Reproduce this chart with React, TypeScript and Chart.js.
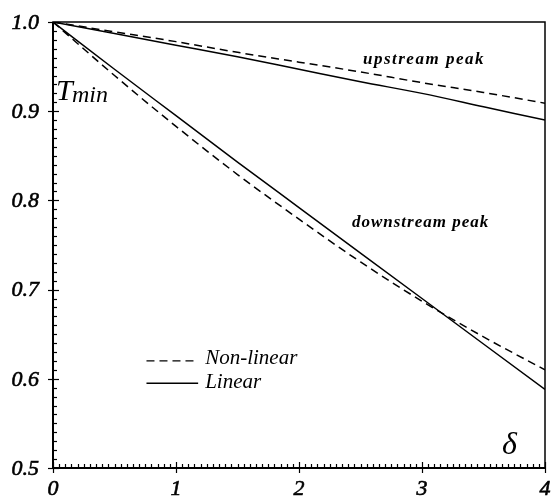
import React, { useEffect, useRef } from "react";
import { Chart, registerables } from "chart.js";

Chart.register(...registerables);

const xValues = [0, 0.5, 1, 1.5, 2, 2.5, 3, 3.5, 4];
const upstreamLinear = [1.0, 0.987, 0.974, 0.961, 0.947, 0.933, 0.92, 0.905, 0.89];
const upstreamNonLinear = [1.0, 0.989, 0.978, 0.966, 0.955, 0.944, 0.932, 0.921, 0.909];
const downstreamLinear = [1.0, 0.947, 0.895, 0.843, 0.792, 0.741, 0.69, 0.639, 0.588];
const downstreamNonLinear = [1.0, 0.94, 0.883, 0.829, 0.779, 0.731, 0.687, 0.647, 0.61];
const xTicks = [0, 1, 2, 3, 4];
const yTicks = [0.5, 0.6, 0.7, 0.8, 0.9, 1.0];

const pts = (ys: number[]) => xValues.map((x, i) => ({ x, y: ys[i] }));

const SERIF = '"Liberation Serif", "DejaVu Serif", serif';

const decorPlugin = {
  id: "decor",
  afterDraw(chart: any) {
    const ctx = chart.ctx as CanvasRenderingContext2D;
    const xs = chart.scales.x;
    const ys = chart.scales.y;
    const { left, right, top, bottom } = chart.chartArea;
    ctx.save();
    ctx.strokeStyle = "#000";
    ctx.fillStyle = "#000";
    // frame
    ctx.lineWidth = 1.5;
    ctx.strokeRect(left, top, right - left, bottom - top);
    ctx.lineWidth = 2;
    ctx.beginPath();
    ctx.moveTo(left, top);
    ctx.lineTo(left, bottom);
    ctx.lineTo(right, bottom);
    ctx.stroke();
    // y minor ticks
    ctx.lineWidth = 1.2;
    for (let i = 0; i <= 50; i++) {
      const v = 0.5 + i * 0.01;
      const py = Math.round(ys.getPixelForValue(v)) + 0.5;
      const major = i % 10 === 0;
      ctx.beginPath();
      ctx.moveTo(left - (major ? 5 : 0), py);
      ctx.lineTo(left + (major ? 6 : 4), py);
      ctx.stroke();
    }
    // x minor ticks
    for (let i = 0; i <= 80; i++) {
      const v = i * 0.05;
      const px = Math.round(xs.getPixelForValue(v)) + 0.5;
      const major = i % 20 === 0;
      ctx.beginPath();
      ctx.moveTo(px, bottom + (major ? 5 : 0));
      ctx.lineTo(px, bottom - (major ? 6 : 4));
      ctx.stroke();
    }
    // tick labels
    ctx.font = `italic 22px ${SERIF}`;
    ctx.lineWidth = 0.6;
    ctx.textAlign = "right";
    ctx.textBaseline = "middle";
    yTicks.forEach((v) => {
      const t = v.toFixed(1);
      const py = ys.getPixelForValue(v) + 1;
      ctx.fillText(t, left - 14, py);
      ctx.strokeText(t, left - 14, py);
    });
    ctx.textAlign = "center";
    ctx.textBaseline = "top";
    xTicks.forEach((v) => {
      const px = xs.getPixelForValue(v);
      ctx.fillText(String(v), px, bottom + 10);
      ctx.strokeText(String(v), px, bottom + 10);
    });
    // axis titles
    ctx.textAlign = "left";
    ctx.textBaseline = "alphabetic";
    ctx.font = `italic 30px ${SERIF}`;
    ctx.fillText("T", left + 3, top + 78);
    ctx.font = `italic 24px ${SERIF}`;
    ctx.fillText("min", left + 19, top + 80);
    ctx.font = `italic 32px ${SERIF}`;
    ctx.fillText("\u03b4", xs.getPixelForValue(3.65), bottom - 14);
    // annotations
    ctx.font = `italic bold 17px ${SERIF}`;
    (ctx as any).letterSpacing = "1.5px";
    ctx.fillText("upstream peak", xs.getPixelForValue(2.52), ys.getPixelForValue(0.953));
    (ctx as any).letterSpacing = "1px";
    ctx.fillText("downstream peak", xs.getPixelForValue(2.43), ys.getPixelForValue(0.77));
    (ctx as any).letterSpacing = "0px";
    // legend
    const ly1 = ys.getPixelForValue(0.62);
    const ly2 = ys.getPixelForValue(0.595);
    const lx0 = xs.getPixelForValue(0.76);
    const lx1 = xs.getPixelForValue(1.18);
    ctx.lineWidth = 1.3;
    ctx.setLineDash([8, 5]);
    ctx.beginPath();
    ctx.moveTo(lx0, ly1);
    ctx.lineTo(lx1, ly1);
    ctx.stroke();
    ctx.setLineDash([]);
    ctx.beginPath();
    ctx.moveTo(lx0, ly2);
    ctx.lineTo(lx1, ly2);
    ctx.stroke();
    ctx.font = `italic 21px ${SERIF}`;
    ctx.textBaseline = "middle";
    ctx.fillText("Non-linear", lx1 + 7, ly1 - 2);
    ctx.fillText("Linear", lx1 + 7, ly2 - 1);
    ctx.restore();
  },
};

export default function App() {
  const ref = useRef<HTMLCanvasElement | null>(null);
  useEffect(() => {
    if (!ref.current) return;
    const line = (data: number[], dashed: boolean) => ({
      data: pts(data),
      borderColor: "#000",
      borderWidth: 1.5,
      borderDash: dashed ? [8, 5] : [],
      pointRadius: 0,
      cubicInterpolationMode: "monotone" as const,
      fill: false,
    });
    const chart = new Chart(ref.current, {
      type: "line",
      data: {
        datasets: [
          { label: "upstream Non-linear", ...line(upstreamNonLinear, true) },
          { label: "upstream Linear", ...line(upstreamLinear, false) },
          { label: "downstream Non-linear", ...line(downstreamNonLinear, true) },
          { label: "downstream Linear", ...line(downstreamLinear, false) },
        ],
      },
      options: {
        animation: false,
        responsive: false,
        layout: { padding: { left: 53, right: 7, top: 22, bottom: 31 } },
        plugins: { legend: { display: false }, tooltip: { enabled: false } },
        scales: {
          x: { type: "linear", min: 0, max: 4, display: false },
          y: { type: "linear", min: 0.5, max: 1.0, display: false },
        },
      },
      plugins: [decorPlugin],
    });
    return () => chart.destroy();
  }, []);
  return (
    <div style={{ position: "fixed", left: 0, top: 0, width: 552, height: 499, background: "#fff" }}>
      <canvas ref={ref} width={552} height={499} />
    </div>
  );
}
